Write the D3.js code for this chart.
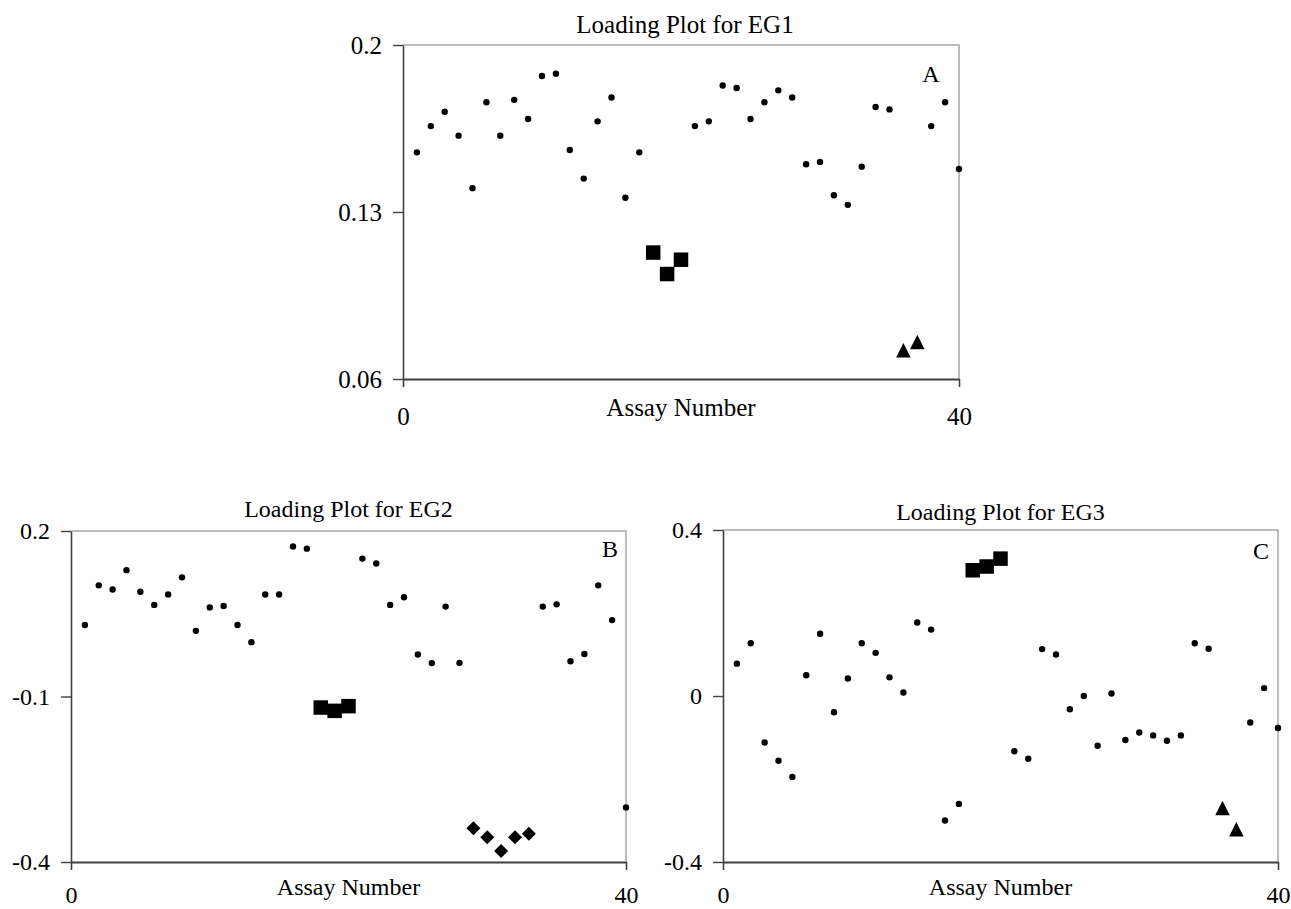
<!DOCTYPE html>
<html>
<head>
<meta charset="utf-8">
<script src="https://cdn.jsdelivr.net/npm/d3@7"></script>
<style>
  html, body { margin: 0; padding: 0; background: #fff; }
  svg { display: block; }
  text { font-family: "Liberation Serif", "Times New Roman", serif; fill: #000; }
</style>
</head>
<body>
<svg id="chart" width="1291" height="909"></svg>
<script>
// Assay numbers shared by all three loading plots
const assayNumbers = [1,2,3,4,5,6,7,8,9,10,11,12,13,14,15,16,17,18,19,20,
                      21,22,23,24,25,26,27,28,29,30,31,32,33,34,35,36,37,38,39,40];

// EG1 loadings per assay
const eg1Loadings = [0.155,0.166,0.172,0.162,0.140,0.176,0.162,0.177,0.169,0.187,
                     0.188,0.156,0.144,0.168,0.178,0.136,0.155,0.113,0.104,0.110,
                     0.166,0.168,0.183,0.182,0.169,0.176,0.181,0.178,0.150,0.151,
                     0.137,0.133,0.149,0.174,0.173,0.072,0.0755,0.166,0.176,0.148];
const eg1SquareAssays = [18,19,20];
const eg1TriangleAssays = [36,37];
const eg1DiamondAssays = [];

// EG2 loadings per assay
const eg2Loadings = [0.0295,0.1015,0.094,0.129,0.090,0.066,0.085,0.116,0.019,0.0615,
                     0.064,0.0295,-0.0015,0.085,0.085,0.172,0.168,-0.120,-0.126,-0.1175,
                     0.150,0.141,0.066,0.080,-0.024,-0.0395,0.063,-0.039,-0.339,-0.355,
                     -0.380,-0.355,-0.349,0.063,0.067,-0.036,-0.023,0.1015,0.0385,-0.301];
const eg2SquareAssays = [18,19,20];
const eg2TriangleAssays = [];
const eg2DiamondAssays = [29,30,31,32,33];

// EG3 loadings per assay
const eg3Loadings = [0.078,0.127,-0.112,-0.156,-0.195,0.050,0.150,-0.039,0.042,0.127,
                     0.104,0.045,0.0085,0.177,0.160,-0.300,-0.260,0.303,0.312,0.331,
                     -0.133,-0.151,0.113,0.100,-0.032,0.000,-0.120,0.006,-0.106,-0.088,
                     -0.095,-0.108,-0.095,0.127,0.114,-0.270,-0.321,-0.064,0.019,-0.077];
const eg3SquareAssays = [18,19,20];
const eg3TriangleAssays = [36,37];
const eg3DiamondAssays = [];

// Axis ticks
const xTicks = [0, 40];
const xTickLabels = ["0", "40"];
const eg1YTicks = [0.06, 0.13, 0.2];
const eg1YTickLabels = ["0.06", "0.13", "0.2"];
const eg2YTicks = [-0.4, -0.1, 0.2];
const eg2YTickLabels = ["-0.4", "-0.1", "0.2"];
const eg3YTicks = [-0.4, 0, 0.4];
const eg3YTickLabels = ["-0.4", "0", "0.4"];

const titles = ["Loading Plot for EG1", "Loading Plot for EG2", "Loading Plot for EG3"];
const panelLetters = ["A", "B", "C"];
const xAxisTitle = "Assay Number";

// Marker shapes: upright triangle and diamond with equal width and height
const symTriangle = {
  draw(ctx, size) {
    const h = Math.sqrt(size) / 2;
    ctx.moveTo(0, -h); ctx.lineTo(h, h); ctx.lineTo(-h, h); ctx.closePath();
  }
};
const symDiamond = {
  draw(ctx, size) {
    const r = Math.sqrt(size) / 2;
    ctx.moveTo(0, -r); ctx.lineTo(r, 0); ctx.lineTo(0, r); ctx.lineTo(-r, 0); ctx.closePath();
  }
};

const panels = [
  { values: eg1Loadings, squares: eg1SquareAssays, triangles: eg1TriangleAssays, diamonds: eg1DiamondAssays,
    yDomain: [0.06, 0.2], yTicks: eg1YTicks, yLabels: eg1YTickLabels,
    box: { l: 403, r: 959, t: 45, b: 379 }, letterPos: [931, 82], titleY: 33, titleDx: 4,
    fs: 25, xLabelDy: 46, xTitleDy: 37 },
  { values: eg2Loadings, squares: eg2SquareAssays, triangles: eg2TriangleAssays, diamonds: eg2DiamondAssays,
    yDomain: [-0.4, 0.2], yTicks: eg2YTicks, yLabels: eg2YTickLabels,
    box: { l: 71, r: 626, t: 531, b: 862 }, letterPos: [610, 557], titleY: 517, titleDx: 0,
    fs: 24, xLabelDy: 41, xTitleDy: 33 },
  { values: eg3Loadings, squares: eg3SquareAssays, triangles: eg3TriangleAssays, diamonds: eg3DiamondAssays,
    yDomain: [-0.4, 0.4], yTicks: eg3YTicks, yLabels: eg3YTickLabels,
    box: { l: 723, r: 1278, t: 530, b: 862 }, letterPos: [1261, 559], titleY: 520, titleDx: 0,
    fs: 24, xLabelDy: 41, xTitleDy: 33 }
];

const svg = d3.select("#chart");
const axisColor = "#404040";
const frameColor = "#a6a6a6";

panels.forEach((p, i) => {
  const b = p.box;
  const x = d3.scaleLinear().domain([0, 40]).range([b.l, b.r]);
  const y = d3.scaleLinear().domain(p.yDomain).range([b.b, b.t]);
  const g = svg.append("g");

  // Plot frame (top and right edges are light grey)
  g.append("path")
    .attr("d", `M${b.l},${b.t}H${b.r}V${b.b}`)
    .attr("fill", "none").attr("stroke", frameColor).attr("stroke-width", 1.5);

  // Y axis
  const yAxis = d3.axisLeft(y)
    .tickValues(p.yTicks)
    .tickSize(10)
    .tickSizeOuter(0)
    .tickPadding(11)
    .tickFormat((d, k) => p.yLabels[k]);
  const yg = g.append("g").attr("transform", `translate(${b.l},0)`).call(yAxis);
  yg.select(".domain").attr("stroke", axisColor).attr("stroke-width", 1.6);
  yg.selectAll(".tick line").attr("stroke", axisColor).attr("stroke-width", 1.4);
  yg.selectAll(".tick text")
    .style("font-size", p.fs + "px")
    .style("font-family", '"Liberation Serif", serif')
    .attr("fill", "#000");

  // X axis
  const xAxis = d3.axisBottom(x)
    .tickValues(xTicks)
    .tickSize(8)
    .tickSizeOuter(0)
    .tickFormat((d, k) => xTickLabels[k]);
  const xg = g.append("g").attr("transform", `translate(0,${b.b})`).call(xAxis);
  xg.select(".domain").attr("stroke", axisColor).attr("stroke-width", 1.8);
  xg.selectAll(".tick line").attr("stroke", axisColor).attr("stroke-width", 1.6);
  xg.selectAll(".tick text")
    .attr("y", p.xLabelDy).attr("dy", 0)
    .style("font-size", p.fs + "px")
    .style("font-family", '"Liberation Serif", serif')
    .attr("fill", "#000");

  // Axis title
  g.append("text")
    .attr("x", (b.l + b.r) / 2).attr("y", b.b + p.xTitleDy)
    .attr("text-anchor", "middle")
    .style("font-size", p.fs + "px")
    .text(xAxisTitle);

  // Chart title
  g.append("text")
    .attr("x", (b.l + b.r) / 2 + p.titleDx).attr("y", p.titleY)
    .attr("text-anchor", "middle")
    .style("font-size", p.fs + "px")
    .text(titles[i]);

  // Panel letter
  g.append("text")
    .attr("x", p.letterPos[0]).attr("y", p.letterPos[1])
    .attr("text-anchor", "middle")
    .style("font-size", "24px")
    .text(panelLetters[i]);

  // Markers
  const rows = assayNumbers.map((a, k) => ({ assay: a, value: p.values[k] }));
  const shapeOf = a => p.squares.includes(a) ? "square"
                    : p.triangles.includes(a) ? "triangle"
                    : p.diamonds.includes(a) ? "diamond" : "dot";
  const sym = {
    dot: d3.symbol().type(d3.symbolCircle).size(Math.PI * 3.2 * 3.2),
    square: d3.symbol().type(d3.symbolSquare).size(14.5 * 14.5),
    triangle: d3.symbol().type(symTriangle).size(14.5 * 14.5),
    diamond: d3.symbol().type(symDiamond).size(14 * 14)
  };
  g.append("g").selectAll("path")
    .data(rows)
    .join("path")
    .attr("transform", d => `translate(${x(d.assay)},${y(d.value)})`)
    .attr("d", d => sym[shapeOf(d.assay)]())
    .attr("fill", "#000");
});
</script>
</body>
</html>
